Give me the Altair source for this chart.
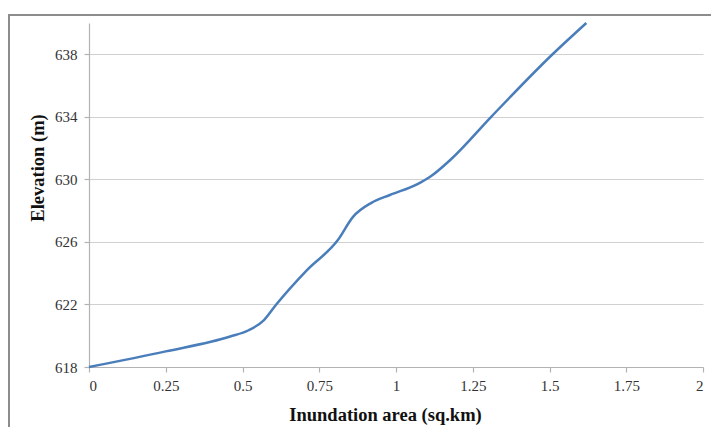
import altair as alt
import pandas as pd

# Data (inundation area in sq.km vs. elevation in m)
area = [0.0, 0.25, 0.46, 0.52, 0.57, 0.61, 0.71, 0.81, 0.86, 0.92, 0.98, 1.07, 1.11, 1.18, 1.31, 1.51, 1.62]
elevation = [618.0, 619.0, 619.95, 620.35, 621.0, 622.0, 624.2, 626.1, 627.6, 628.5, 629.0, 629.7, 630.15, 631.3, 634.0, 638.0, 640.0]
x_ticks = [0, 0.25, 0.5, 0.75, 1, 1.25, 1.5, 1.75, 2]
y_ticks = [618, 622, 626, 630, 634, 638]

df = pd.DataFrame({"area": area, "elevation": elevation})

W, H = 614, 344
FONT = "Liberation Serif"
FRAME = "#8c8c8c"

one = pd.DataFrame({"k": [0]})
top_edge = alt.Chart(one).mark_rect(color=FRAME).encode(
    x=alt.value(-81), x2=alt.value(W + 20), y=alt.value(-9), y2=alt.value(-7)
)
left_edge = alt.Chart(one).mark_rule(color=FRAME, strokeWidth=2).encode(
    x=alt.value(-80), y=alt.value(-9), y2=alt.value(H + 80)
)

line = alt.Chart(df).mark_line(
    color="#4a7ebb", strokeWidth=2.5, interpolate="monotone"
).encode(
    x=alt.X(
        "area:Q",
        scale=alt.Scale(domain=[0, 2], nice=False, zero=False),
        axis=alt.Axis(
            values=x_ticks, labelExpr="'' + datum.value", grid=False,
            title="Inundation area (sq.km)",
            titleX=296, titleY=53, titleAlign="center", titleBaseline="alphabetic",
            tickSize=5, labelPadding=6,
        ),
    ),
    y=alt.Y(
        "elevation:Q",
        scale=alt.Scale(domain=[618, 640], nice=False, zero=False),
        axis=alt.Axis(
            values=y_ticks, format="d", grid=True,
            title="Elevation (m)",
            titleX=-51.5, titleY=144.5, titleAngle=270, titleAlign="center", titleBaseline="middle",
            tickSize=5, labelPadding=7,
        ),
    ),
)

chart = alt.layer(top_edge, left_edge, line).properties(
    width=W, height=H,
    autosize=alt.AutoSizeParams(type="none"),
    padding={"left": 81, "top": 15, "right": 8, "bottom": 60},
    background="white",
).configure_view(
    strokeWidth=0
).configure_axis(
    labelFont=FONT, labelFontSize=15, labelColor="#333333",
    titleFont=FONT, titleFontSize=18.5, titleFontWeight="bold", titleColor="#111111",
    domainColor="#b3b3b3", tickColor="#b3b3b3", gridColor="#d0d0d0",
    domainWidth=1.2, tickWidth=1.2, gridWidth=1.2,
)

chart.save("out.html", embed_options={"renderer": "svg", "actions": False})
